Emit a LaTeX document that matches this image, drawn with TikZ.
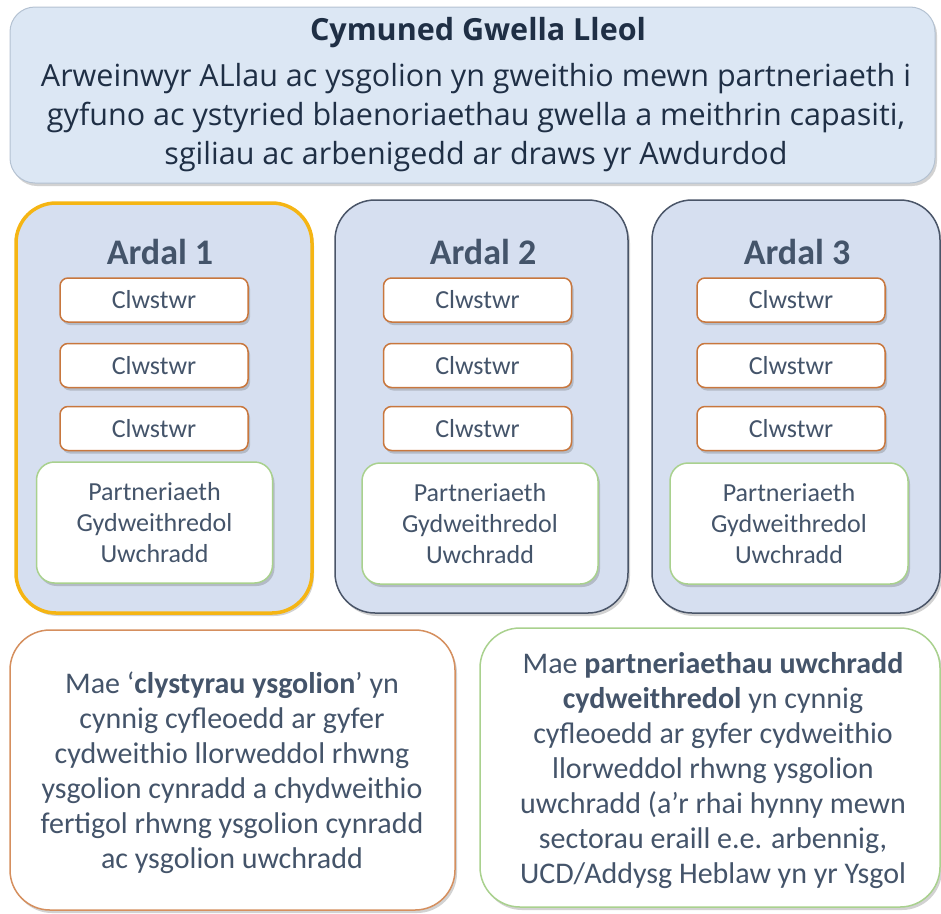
\documentclass[tikz,border=0pt]{standalone}
\usepackage{fontspec}
\setmainfont{Carlito}
\newfontfamily\bannerfont{Open Sans}
\usetikzlibrary{shadows}
\definecolor{txt}{HTML}{44546A}
\definecolor{bantxt}{HTML}{1F2F45}
\definecolor{banfill}{HTML}{DCE7F4}
\definecolor{banline}{HTML}{B4C2D2}
\definecolor{areafill}{HTML}{D6DFF0}
\definecolor{gold}{HTML}{F5B514}
\definecolor{slate}{HTML}{4A5568}
\definecolor{clwline}{HTML}{C8773E}
\definecolor{grn}{HTML}{A9D18E}
\definecolor{notebrown}{HTML}{D58F5E}
\begin{document}
\begin{tikzpicture}[x=1pt,y=-1pt,
  shad/.style={drop shadow={shadow xshift=2pt,shadow yshift=-3pt,opacity=0.25,fill=black!70}},
  banner/.style={draw=banline,fill=banfill,rounded corners=25pt,line width=1pt,shad,
     minimum width=925pt,minimum height=176pt,inner sep=0pt},
  area/.style={fill=areafill,rounded corners=40pt,shad,inner sep=0pt},
  areatitle/.style={font=\bfseries\fontsize{36}{40}\selectfont,text=txt,inner sep=0pt},
  clw/.style={draw=clwline,fill=white,rounded corners=8pt,line width=1.5pt,shad,
     minimum width=188pt,minimum height=44pt,inner sep=0pt,
     font=\fontsize{26}{31}\selectfont,text=txt},
  pgc/.style={draw=grn,fill=white,rounded corners=18pt,line width=1.5pt,shad,
     minimum width=236pt,minimum height=121pt,inner sep=0pt,align=center,
     font=\fontsize{26}{31}\selectfont,text=txt},
  notebox/.style={fill=white,rounded corners=40pt,line width=1.5pt,shad,inner sep=0pt},
  notetext/.style={align=center,font=\fontsize{30}{35}\selectfont,text=txt,inner sep=0pt}
]
\useasboundingbox (0,0) rectangle (941,913);

% banner
\node[banner] (banner) at (472.5,95) {};
\node[font=\bannerfont\bfseries\fontsize{30.5}{36}\selectfont,text=bantxt] (bantitle) at (478,33) {Cymuned Gwella Lleol};
\node[align=center,font=\bannerfont\fontsize{30.5}{39}\selectfont,text=bantxt] (bantext) at (476,118)
  {Arweinwyr ALlau ac ysgolion yn gweithio mewn partneriaeth i\\
   gyfuno ac ystyried blaenoriaethau gwella a meithrin capasiti,\\
   sgiliau ac arbenigedd ar draws yr Awdurdod};

% areas
\node[area,draw=gold,line width=3.5pt,minimum width=296pt,minimum height=410pt] (a1) at (164,408) {};
\node[area,draw=slate,line width=1.5pt,minimum width=293pt,minimum height=413pt] (a2) at (481.5,406.5) {};
\node[area,draw=slate,line width=1.5pt,minimum width=288pt,minimum height=413pt] (a3) at (796,406.5) {};

\node[areatitle] (t1) at (160,252) {Ardal 1};
\node[areatitle] (t2) at (483,252) {Ardal 2};
\node[areatitle] (t3) at (797,252) {Ardal 3};

% clusters
\node[clw] (c11) at (154,300) {Clwstwr};
\node[clw] (c12) at (154,365.5) {Clwstwr};
\node[clw] (c13) at (154,428.5) {Clwstwr};
\node[clw] (c21) at (477.5,300) {Clwstwr};
\node[clw] (c22) at (477.5,365.5) {Clwstwr};
\node[clw] (c23) at (477.5,428.5) {Clwstwr};
\node[clw] (c31) at (791,300) {Clwstwr};
\node[clw] (c32) at (791,365.5) {Clwstwr};
\node[clw] (c33) at (791,428.5) {Clwstwr};

% secondary partnerships
\node[pgc] (p1) at (154.5,522.5) {Partneriaeth\\Gydweithredol\\Uwchradd};
\node[pgc] (p2) at (480,523.5) {Partneriaeth\\Gydweithredol\\Uwchradd};
\node[pgc,minimum width=238pt] (p3) at (789,523.5) {Partneriaeth\\Gydweithredol\\Uwchradd};

% notes
\node[notebox,draw=notebrown,minimum width=445pt,minimum height=280pt] (n1) at (232.5,770) {};
\node[notetext] (n1t) at (232,773)
  {Mae ‘\textbf{clystyrau ysgolion}’ yn\\
   cynnig cyfleoedd ar gyfer\\
   cydweithio llorweddol rhwng\\
   ysgolion cynradd a chydweithio\\
   fertigol rhwng ysgolion cynradd\\
   ac ysgolion uwchradd};
\node[notebox,draw=grn,minimum width=460pt,minimum height=279pt] (n2) at (710,767.5) {};
\node[notetext] (n2t) at (713,771)
  {Mae \textbf{partneriaethau uwchradd}\\
   \textbf{cydweithredol} yn cynnig\\
   cyfleoedd ar gyfer cydweithio\\
   llorweddol rhwng ysgolion\\
   uwchradd (a’r rhai hynny mewn\\
   sectorau eraill e.e. arbennig,\\
   UCD/Addysg Heblaw yn yr Ysgol};
\end{tikzpicture}
\end{document}
